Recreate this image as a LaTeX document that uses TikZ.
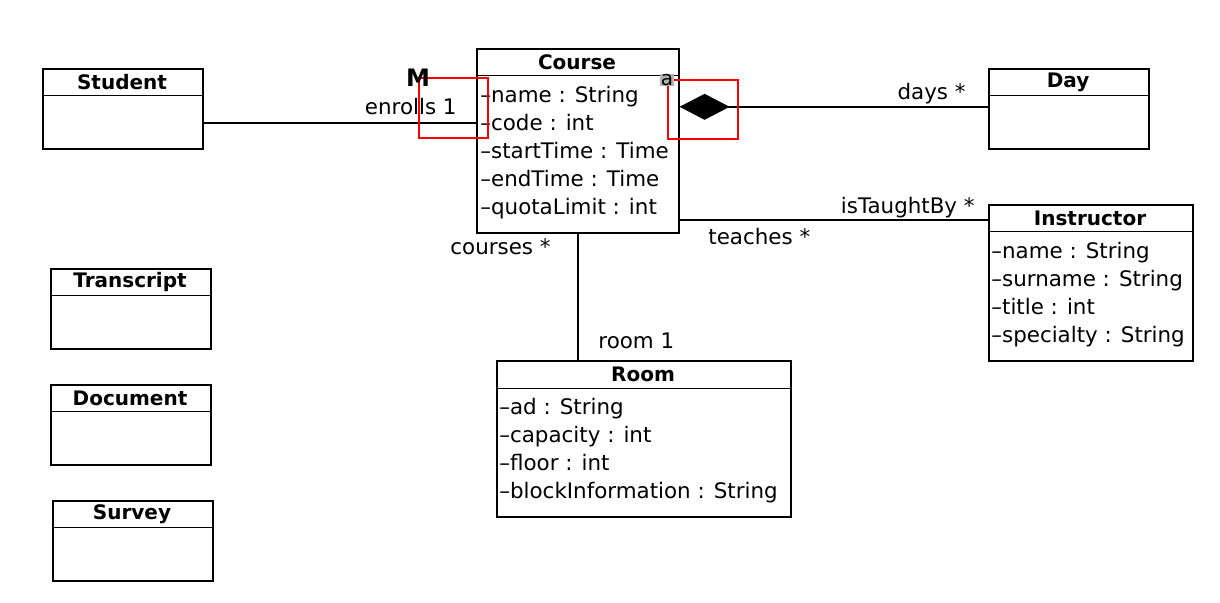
\documentclass[tikz,border=0pt]{standalone}
\usepackage{fontspec}
\setmainfont{DejaVu Sans}
\usetikzlibrary{arrows.meta}

\tikzset{
  classbox/.style={draw, line width=0.8pt, anchor=north west, inner sep=0pt},
  classname/.style={font=\bfseries, inner sep=0pt},
  attr/.style={anchor=west, inner sep=0pt, text height=10pt, text depth=1.5pt},
  assoc/.style={line width=0.8pt},
  rolelabel/.style={inner sep=0pt, text height=10pt, text depth=1.5pt},
  markbox/.style={draw=red, line width=0.8pt}
}

\begin{document}
\begin{tikzpicture}[x=0.5pt, y=-0.5pt, font=\fontsize{10.7}{14}\selectfont]
\useasboundingbox (0,0) rectangle (1220,602);

% classes
\node[classbox, minimum width=80pt, minimum height=40pt] (student) at (42,68) {};
\node[classname] (student-name) at (122,82) {Student};
\draw ([yshift=-13.5pt]student.north west) -- ([yshift=-13.5pt]student.north east);

\node[classbox, minimum width=101pt, minimum height=92pt] (course) at (476,48) {};
\node[classname] (course-name) at (577,62) {Course};
\draw ([yshift=-13.5pt]course.north west) -- ([yshift=-13.5pt]course.north east);
\foreach \a [count=\i] in {name : String, code : int, startTime : Time, endTime : Time, quotaLimit : int}
  \node[attr] (course-attr\i) at (480,66+28*\i) {–\a};

\node[classbox, minimum width=80pt, minimum height=40pt] (day) at (988,68) {};
\node[classname] (day-name) at (1068,82) {Day};
\draw ([yshift=-13.5pt]day.north west) -- ([yshift=-13.5pt]day.north east);

\node[classbox, minimum width=102pt, minimum height=78pt] (instructor) at (988,204) {};
\node[classname] (instructor-name) at (1090,218) {Instructor};
\draw ([yshift=-13.5pt]instructor.north west) -- ([yshift=-13.5pt]instructor.north east);
\foreach \a [count=\i] in {name : String, surname : String, title : int, specialty : String}
  \node[attr] (instructor-attr\i) at (991,222+28*\i) {–\a};

\node[classbox, minimum width=147pt, minimum height=78pt] (room) at (496,360) {};
\node[classname] (room-name) at (643,374) {Room};
\draw ([yshift=-14pt]room.north west) -- ([yshift=-14pt]room.north east);
\foreach \a [count=\i] in {ad : String, capacity : int, floor : int, blockInformation : String}
  \node[attr] (room-attr\i) at (499,378+28*\i) {–\a};

\node[classbox, minimum width=80pt, minimum height=40pt] (transcript) at (50,268) {};
\node[classname] (transcript-name) at (130,282) {Transcript};
\draw ([yshift=-13.5pt]transcript.north west) -- ([yshift=-13.5pt]transcript.north east);

\node[classbox, minimum width=80pt, minimum height=40pt] (document) at (50,384) {};
\node[classname] (document-name) at (130,398) {Document};
\draw ([yshift=-13.5pt]document.north west) -- ([yshift=-13.5pt]document.north east);

\node[classbox, minimum width=80pt, minimum height=40pt] (survey) at (52,500) {};
\node[classname] (survey-name) at (132,514) {Survey};
\draw ([yshift=-13.5pt]survey.north west) -- ([yshift=-13.5pt]survey.north east);

% associations
\draw[assoc] ([yshift=-7pt]student.east) -- ([yshift=-7pt]student.east -| course.west);
\draw[assoc, {Diamond[length=25pt, width=13pt]}-] ([yshift=1pt]day.west -| course.east) -- ([yshift=1pt]day.west);
\draw[assoc] ([yshift=-8pt]instructor.north west -| course.east) -- ([yshift=-8pt]instructor.north west);
\draw[assoc] (course.south |- course.south) -- (course.south |- room.north);

\node[rolelabel, anchor=east] (enrolls) at (457,106) {enrolls 1};
\node[rolelabel, anchor=east] (days) at (966,91) {days *};
\node[rolelabel, anchor=east] (taughtby) at (975,205) {isTaughtBy *};
\node[rolelabel, anchor=west] (teaches) at (708,236) {teaches *};
\node[rolelabel, anchor=east] (courses) at (551,246) {courses *};
\node[rolelabel, anchor=west] (roomrole) at (598,340) {room 1};

% marks
\draw[markbox] (419,78) rectangle (488,138);
\draw[markbox] (668,80) rectangle (738,139);
\node[font=\fontsize{12}{12}\selectfont\bfseries, inner sep=0pt] (mark-m) at (418,78) {M};
\node[fill=gray!60, inner sep=0.3pt, font=\fontsize{10}{10}\selectfont] (mark-a) at (667,80) {a};
\end{tikzpicture}
\end{document}
